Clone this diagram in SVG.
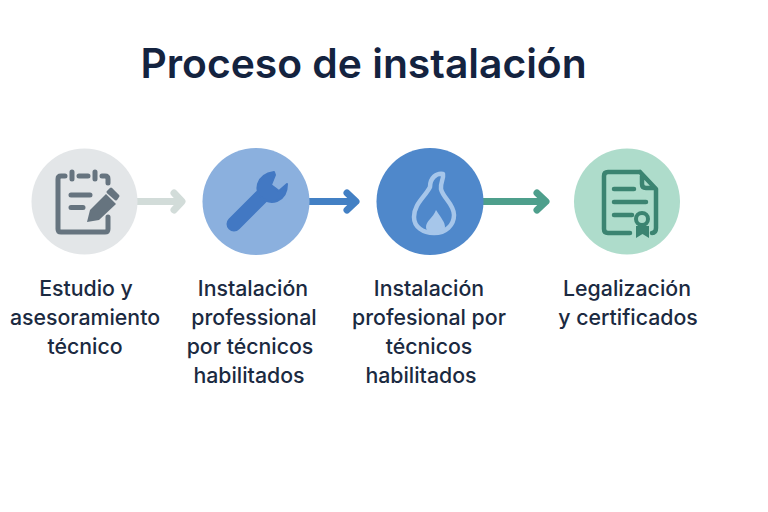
<svg xmlns="http://www.w3.org/2000/svg" width="768" height="512" viewBox="0 0 768 512">
<style>
text{font-family:Inter,"Liberation Sans",sans-serif;fill:#1b2a41;text-anchor:middle}
.t{font-size:21.300px;font-weight:500}
.h{font-size:40.800px;font-weight:600;text-anchor:start;fill:#14233f}
.g{fill:none;stroke:#66747f;stroke-width:5;stroke-linecap:round;stroke-linejoin:round}
.m{fill:none;stroke:#3b8471;stroke-width:4.500;stroke-linecap:round;stroke-linejoin:round}
</style>
<rect width="768" height="512" fill="#fff"/>
<text class="h" x="140.500" y="78">Proceso de instalación</text>
<g id="connectors" fill="none" stroke-width="7" stroke-linecap="round" stroke-linejoin="round">
<path d="M135 201.500H181M174 193L182 201.500L174 210" stroke="#d2dcd9"/>
<path d="M308 201.500H355M347 193L356 201.500L347 210" stroke="#4380c4"/>
<path d="M483 201.500H545M537 193L546 201.500L537 210" stroke="#4e9f8c"/>
</g>
<g id="node1">
<circle cx="84.500" cy="201.500" r="53" fill="#e3e6e8"/>
<path class="g" d="M65 176H61Q58 176 58 179V229Q58 232 61 232H105Q108 232 108 229V217M72 172V179M95 172V179M79 176H88M102 176H105Q108 176 108 179V183"/>
<path class="g" d="M71 195H90M71 207.500H83"/>
<path d="M87 222L90 210L106 194L116 204L99 220Z" fill="#66747f"/>
<path d="M108 192L111 189L118 196L116 199Z" fill="#66747f" stroke="#66747f" stroke-width="3" stroke-linejoin="round"/>
<text class="t" x="86" y="296">Estudio y</text>
<text class="t" x="85" y="325">asesoramiento</text>
<text class="t" x="85" y="354">técnico</text>
</g>
<g id="node2">
<circle cx="256" cy="201.500" r="53.500" fill="#8bb0de"/>
<path d="M234 224L261 197" stroke="#4278c3" stroke-width="15" stroke-linecap="round"/>
<path d="M274 172Q261 174 258 184Q256 192 261 197Q268 204 277 201Q287 197 287 184L279 191L271 185L275 175Z" fill="#4278c3" stroke="#4278c3" stroke-width="2" stroke-linejoin="round"/>
<text class="t" x="253" y="296">Instalación</text>
<text class="t" x="254" y="325">professional</text>
<text class="t" x="250" y="354">por técnicos</text>
<text class="t" x="249" y="383">habilitados</text>
</g>
<g id="node3">
<circle cx="430" cy="201.500" r="53.500" fill="#4f88cb"/>
<path d="M443 174C436 173 430 178 430 187C425 197 414 204 414 217C414 227 423 233 434 233C446 233 454 225 454 215C454 204 443 198 441 189C440 183 444 179 443 174Z" fill="none" stroke="#a6c6ea" stroke-width="4.500" stroke-linejoin="round"/>
<path d="M436 210C441 218 445 222 445 227C445 231 439 233 435 233C430 233 426 231 426 227C426 221 433 218 436 210Z" fill="#a6c6ea"/>
<text class="t" x="429" y="296">Instalación</text>
<text class="t" x="429" y="325">profesional por</text>
<text class="t" x="429" y="354">técnicos</text>
<text class="t" x="421" y="383">habilitados</text>
</g>
<g id="node4">
<circle cx="627" cy="201.500" r="53" fill="#aedccb"/>
<path class="m" d="M640 172H608Q604 172 604 176V229Q604 233 608 233H630M640 172L656 189V228Q656 233 652 233M642 176V184Q642 188 646 188H655"/>
<path class="m" d="M614 189H634M614 202H646M614 215H632"/>
<circle cx="642" cy="219" r="6" fill="#aedccb" stroke="#3b8471" stroke-width="4"/>
<path d="M636 226H649V238L642.500 234L636 238Z" fill="#3b8471"/>
<text class="t" x="627" y="296">Legalización</text>
<text class="t" x="628" y="325">y certificados</text>
</g>
</svg>
